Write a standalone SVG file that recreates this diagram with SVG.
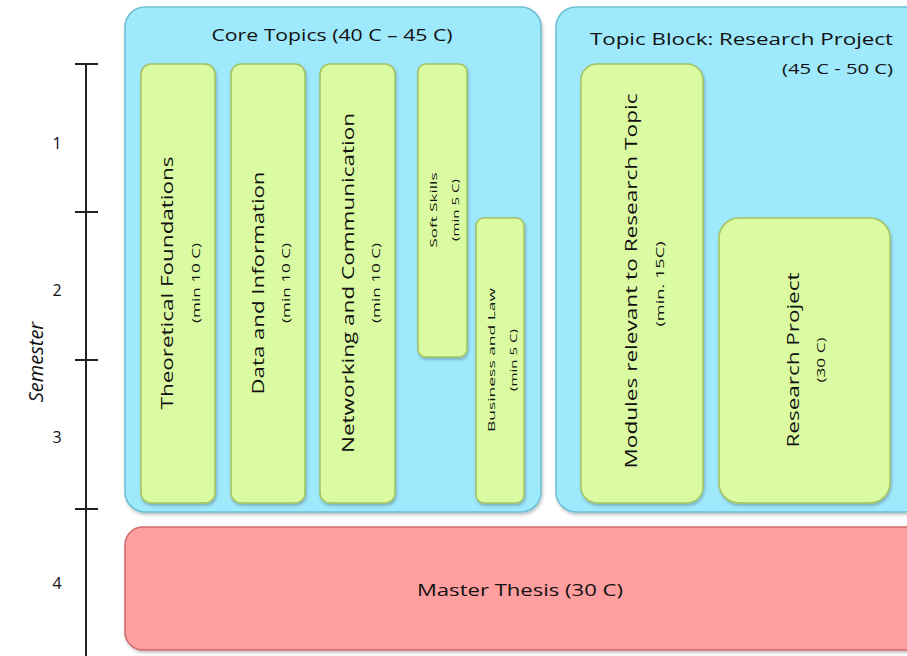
<svg xmlns="http://www.w3.org/2000/svg" width="907" height="656" viewBox="0 0 907 656">
<defs>
<filter id="sh" x="-5%" y="-5%" width="115%" height="115%">
<feDropShadow dx="1" dy="2" stdDeviation="1.5" flood-color="#000" flood-opacity="0.25"/>
</filter>
</defs>
<style>
.panel{fill:#9fe9fd;stroke:#6cbfd6;stroke-width:1.5;filter:url(#sh)}
.mod{fill:#dafba2;stroke:#a3c35e;stroke-width:1.5;filter:url(#sh)}
.thesis{fill:#ff9f9f;stroke:#cf6a6a;stroke-width:1.5;filter:url(#sh)}
text{font-family:"Open Sans","Liberation Sans",sans-serif;fill:#111}
.t{font-size:17px}
.s{font-size:10px}
.xs{font-size:9.5px}
.v{text-anchor:middle;dominant-baseline:central}
.axis{stroke:#222;stroke-width:2}
</style>
<g id="axis">
<line class="axis" x1="86" y1="63" x2="86" y2="656"/>
<line class="axis" x1="75" y1="64" x2="98" y2="64"/>
<line class="axis" x1="75" y1="212" x2="98" y2="212"/>
<line class="axis" x1="75" y1="360" x2="98" y2="360"/>
<line class="axis" x1="75" y1="509" x2="98" y2="509"/>
<text x="57" y="149" text-anchor="middle" style="font-size:16px">1</text>
<text x="57" y="296" text-anchor="middle" style="font-size:16px">2</text>
<text x="57" y="443" text-anchor="middle" style="font-size:16px">3</text>
<text x="57" y="589" text-anchor="middle" style="font-size:16px">4</text>
<text transform="translate(35,362) rotate(-90)" class="v" style="font-size:20px;font-style:italic">Semester</text>
</g>
<g id="core">
<rect class="panel" x="125" y="7" width="416" height="505" rx="20"/>
<text x="332" y="41" text-anchor="middle" class="t" textLength="241" lengthAdjust="spacingAndGlyphs">Core Topics (40 C – 45 C)</text>
</g>
<g id="research-block">
<rect class="panel" x="556" y="7" width="370" height="505" rx="20"/>
<text x="893" y="45" text-anchor="end" class="t" textLength="303" lengthAdjust="spacingAndGlyphs">Topic Block: Research Project</text>
<text x="893" y="74" text-anchor="end" style="font-size:15px" textLength="111" lengthAdjust="spacingAndGlyphs">(45 C - 50 C)</text>
</g>
<g id="theoretical">
<rect class="mod" x="141" y="64" width="74" height="439" rx="10"/>
<text transform="translate(166,283) rotate(-90)" class="t v" textLength="253" lengthAdjust="spacingAndGlyphs">Theoretical Foundations</text>
<text transform="translate(196,283) rotate(-90)" class="s v" textLength="80" lengthAdjust="spacingAndGlyphs">(min 10 C)</text>
</g>
<g id="data">
<rect class="mod" x="231" y="64" width="74" height="439" rx="10"/>
<text transform="translate(257,283) rotate(-90)" class="t v" textLength="223" lengthAdjust="spacingAndGlyphs">Data and Information</text>
<text transform="translate(286,283) rotate(-90)" class="s v" textLength="80" lengthAdjust="spacingAndGlyphs">(min 10 C)</text>
</g>
<g id="networking">
<rect class="mod" x="320" y="64" width="75" height="439" rx="10"/>
<text transform="translate(347,283) rotate(-90)" class="t v" textLength="340" lengthAdjust="spacingAndGlyphs">Networking and Communication</text>
<text transform="translate(376,283) rotate(-90)" class="s v" textLength="80" lengthAdjust="spacingAndGlyphs">(min 10 C)</text>
</g>
<g id="softskills">
<rect class="mod" x="418" y="64" width="49" height="293" rx="8"/>
<text transform="translate(433,210) rotate(-90)" class="xs v" textLength="75" lengthAdjust="spacingAndGlyphs">Soft Skills</text>
<text transform="translate(455,210) rotate(-90)" class="xs v" textLength="62" lengthAdjust="spacingAndGlyphs">(min 5 C)</text>
</g>
<g id="business">
<rect class="mod" x="476" y="218" width="48" height="285" rx="8"/>
<text transform="translate(491,360) rotate(-90)" class="xs v" textLength="144" lengthAdjust="spacingAndGlyphs">Business and Law</text>
<text transform="translate(513,360) rotate(-90)" class="xs v" textLength="62" lengthAdjust="spacingAndGlyphs">(min 5 C)</text>
</g>
<g id="modules">
<rect class="mod" x="581" y="64" width="122" height="439" rx="16"/>
<text transform="translate(630,281) rotate(-90)" class="t v" textLength="375" lengthAdjust="spacingAndGlyphs">Modules relevant to Research Topic</text>
<text transform="translate(660,284) rotate(-90)" class="s v" textLength="85" lengthAdjust="spacingAndGlyphs">(min. 15C)</text>
</g>
<g id="project">
<rect class="mod" x="719" y="218" width="171" height="285" rx="20"/>
<text transform="translate(792,360) rotate(-90)" class="t v" textLength="175" lengthAdjust="spacingAndGlyphs">Research Project</text>
<text transform="translate(821,360) rotate(-90)" class="s v" textLength="45" lengthAdjust="spacingAndGlyphs">(30 C)</text>
</g>
<g id="thesis">
<rect class="thesis" x="125" y="527" width="800" height="123" rx="18"/>
<text x="520" y="596" text-anchor="middle" style="font-size:17px" textLength="206" lengthAdjust="spacingAndGlyphs">Master Thesis (30 C)</text>
</g>
<g id="connectors"></g>
</svg>
